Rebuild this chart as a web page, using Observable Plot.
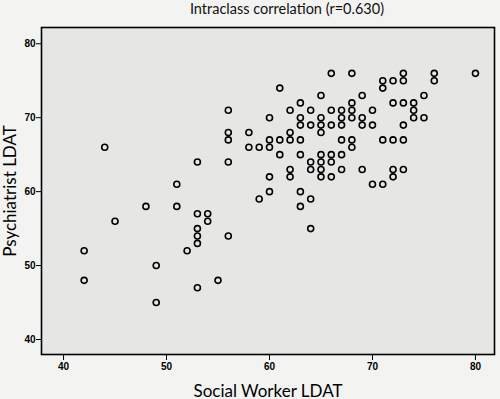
<!DOCTYPE html>
<html>
<head>
<meta charset="utf-8">
<script src="https://cdn.jsdelivr.net/npm/d3@7"></script>
<script src="https://cdn.jsdelivr.net/npm/@observablehq/plot@0.6"></script>
<style>
  html, body { margin: 0; padding: 0; background: #f3f3f2; }
  #wrap { width: 500px; height: 399px; position: relative; overflow: hidden; }
  #title { height: 20px; line-height: 17px; font-family: Lato, "Open Sans", sans-serif; font-size: 14.5px; text-align: center; padding-left: 74px; box-sizing: border-box; color: #111; }
  svg [aria-label="x-axis label"] text, svg [aria-label="y-axis label"] text { font-family: Lato, "Open Sans", sans-serif; font-size: 17px; font-weight: normal; }
</style>
</head>
<body>
<div id="wrap">
  <div id="title">Intraclass correlation (r=0.630)</div>
  <div id="chart"></div>
</div>
<script>
// Social worker LDAT score (x) and psychiatrist LDAT score (y) for each rated case
const socialWorker = [
  42,42,44,45,48,49,49,51,51,52,
  53,53,53,53,53,53,54,54,55,
  56,56,56,56,56,
  58,58,59,59,
  60,60,60,60,60,
  61,61,61,
  62,62,62,62,62,
  63,63,63,63,63,63,63,
  64,64,64,64,64,64,
  65,65,65,65,65,65,65,65,
  66,66,66,66,66,66,
  67,67,67,67,67,67,
  68,68,68,68,68,68,
  69,69,69,69,
  70,70,70,
  71,71,71,71,
  72,72,72,72,72,
  73,73,73,73,73,73,
  74,74,74,
  75,75,
  76,76,
  80
];
const psychiatrist = [
  52,48,66,56,58,50,45,61,58,52,
  64,57,55,54,53,47,57,56,48,
  71,68,67,64,54,
  68,66,66,59,
  70,67,66,62,60,
  74,67,65,
  71,68,67,63,62,
  72,70,69,67,65,60,58,
  71,69,64,63,59,55,
  73,70,69,68,65,64,63,62,
  76,71,69,65,64,62,
  71,70,69,67,65,63,
  76,72,71,70,67,66,
  73,70,69,63,
  71,69,61,
  75,74,67,61,
  75,72,67,63,62,
  76,75,72,69,67,63,
  72,71,70,
  73,70,
  76,75,
  76
];
const xTicks = [40, 50, 60, 70, 80];
const yTicks = [40, 50, 60, 70, 80];
const xLabel = "Social Worker LDAT";
const yLabel = "Psychiatrist LDAT";

const data = socialWorker.map((x, i) => ({x, y: psychiatrist[i]}));

const chart = Plot.plot({
  width: 500,
  height: 379,
  marginLeft: 41,
  marginRight: 6,
  marginTop: 7,
  marginBottom: 45,
  style: {background: "transparent", fontFamily: '"Liberation Sans Narrow", "Liberation Sans", sans-serif', fontSize: "10px", fontWeight: "bold", color: "black"},
  x: {domain: [37.86, 81.85]},
  y: {domain: [37.97, 82.2]},
  marks: [
    Plot.frame({fill: "#e6e6e5", stroke: "none"}),
    Plot.dot(data, {x: "x", y: "y", r: 3, stroke: "black", strokeWidth: 1.6, fill: "none"}),
    Plot.frame({stroke: "black", strokeWidth: 1.6}),
    Plot.axisX({ticks: xTicks, tickSize: 6, tickPadding: 2, tickFormat: d => String(d), label: xLabel, labelAnchor: "center", labelArrow: "none", labelOffset: 42}),
    Plot.axisY({ticks: yTicks, tickSize: 5, tickPadding: 1, tickFormat: d => String(d), label: yLabel, labelAnchor: "center", labelArrow: "none", labelOffset: 38})
  ]
});
document.getElementById("chart").appendChild(chart);
</script>
</body>
</html>
